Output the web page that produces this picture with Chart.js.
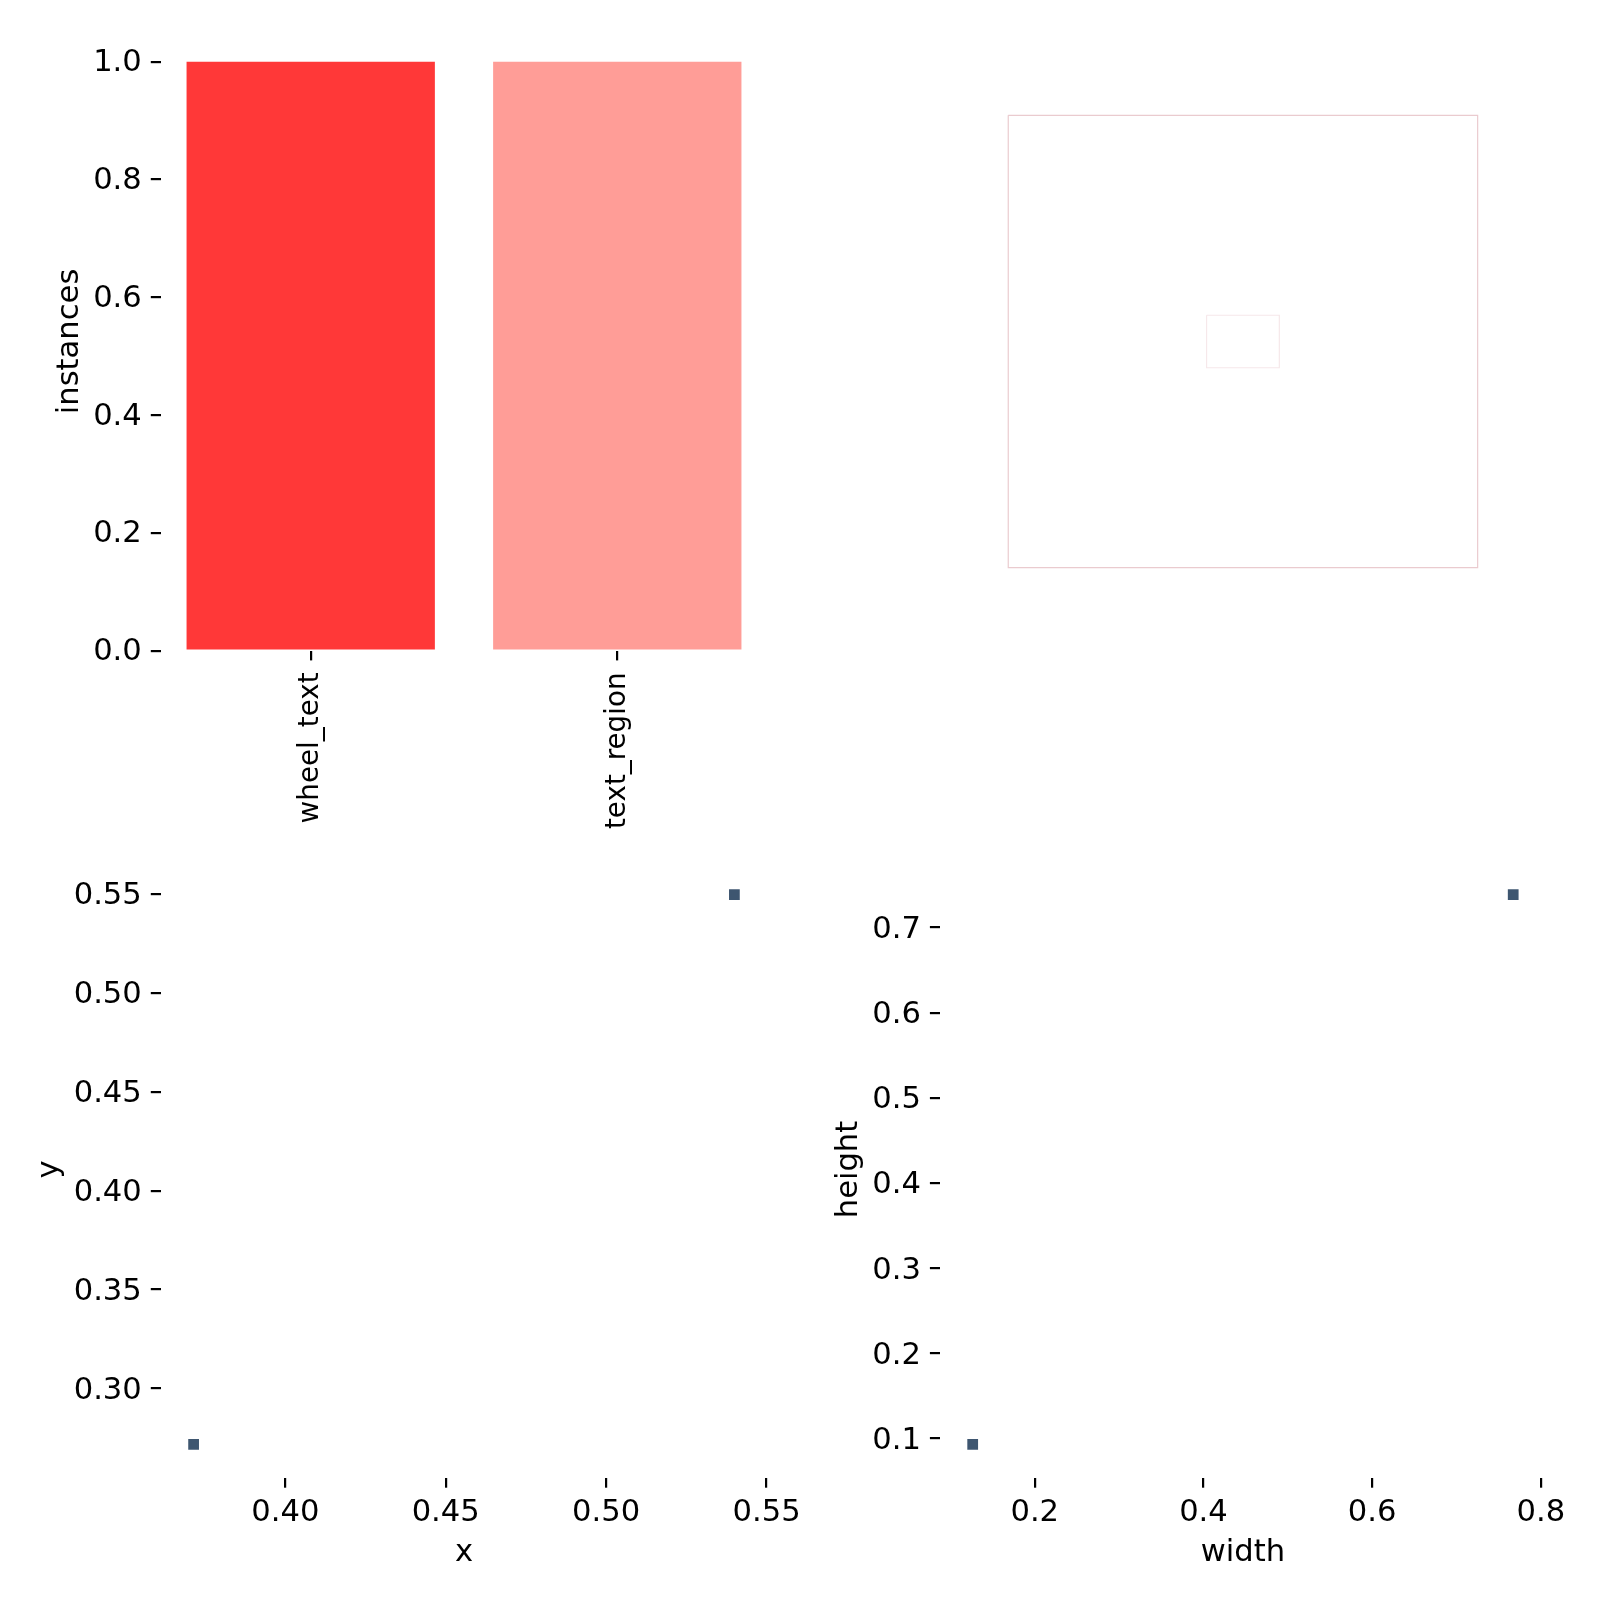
<!DOCTYPE html>
<html><head><meta charset="utf-8">
<script src="https://cdn.jsdelivr.net/npm/chart.js@4.4.0/dist/chart.umd.min.js"></script>
<style>
html,body{margin:0;padding:0;background:#fff;}
body{width:1600px;height:1600px;position:relative;overflow:hidden;}
.p{position:absolute;}
canvas{display:block;}
</style></head><body>
<div class="p" style="left:0;top:0;width:800px;height:830px"><canvas id="c1" width="800" height="830" style="width:800px;height:830px"></canvas></div>
<div class="p" style="left:800px;top:0;width:800px;height:830px"><canvas id="c2" width="800" height="830" style="width:800px;height:830px"></canvas></div>
<div class="p" style="left:0;top:830px;width:880px;height:770px"><canvas id="c3" width="880" height="770" style="width:880px;height:770px"></canvas></div>
<div class="p" style="left:800px;top:830px;width:800px;height:770px"><canvas id="c4" width="800" height="770" style="width:800px;height:770px"></canvas></div>
<script>
// ---- data ----
const classes = ['wheel_text', 'text_region'];
const instances = [1, 1];
const instanceTicks = [0.0, 0.2, 0.4, 0.6, 0.8, 1.0];
const boxX = [0.3697, 0.5417];
const boxY = [0.2689, 0.5525];
const boxW = [0.1199, 0.7737];
const boxH = [0.0865, 0.7452];
const xTicks = [0.40, 0.45, 0.50, 0.55];
const yTicks = [0.30, 0.35, 0.40, 0.45, 0.50, 0.55];
const wTicks = [0.2, 0.4, 0.6, 0.8];
const hTicks = [0.1, 0.2, 0.3, 0.4, 0.5, 0.6, 0.7];

// ---- styles ----
Chart.defaults.font.family = 'DejaVu Sans';
Chart.defaults.color = '#000';
const FONT = {family: 'DejaVu Sans', size: 30.6};
const CLASS_FONT = {family: 'DejaVu Sans', size: 27.8};
const barColors = ['#FF3838', '#FF9D97'];
const boxColors = ['#F6E8EA', '#EACBCF'];
const cellColor = '#3e5670';
const BINS = 50;

const tickGrid = {drawOnChartArea: false, drawTicks: true, tickLength: 9.7, color: '#000', lineWidth: 2.2, offset: false};
const noBorder = {display: false};
const fixedTicks = vals => scale => { scale.ticks = vals.map(v => ({value: v})); };
const plugins = {legend: {display: false}, tooltip: {enabled: false}};

function lim(arr) {
  const mn = Math.min(...arr), mx = Math.max(...arr), m = (mx - mn) * 0.05;
  return [mn - m, mx + m];
}
function hist2d(xs, ys, bins) {
  const x0 = Math.min(...xs), x1 = Math.max(...xs), y0 = Math.min(...ys), y1 = Math.max(...ys);
  const bw = (x1 - x0) / bins, bh = (y1 - y0) / bins;
  const cells = {};
  xs.forEach((x, i) => {
    const ix = Math.min(Math.floor((x - x0) / bw), bins - 1);
    const iy = Math.min(Math.floor((ys[i] - y0) / bh), bins - 1);
    const k = ix + ',' + iy;
    if (!cells[k]) cells[k] = {x: x0 + (ix + 0.5) * bw, y: y0 + (iy + 0.5) * bh, n: 0};
    cells[k].n++;
  });
  return Object.values(cells).map(c => ({x: c.x, y: c.y}));
}

// ---- chart 1: instances bar ----
new Chart(document.getElementById('c1'), {
  type: 'bar',
  data: {datasets: [{
    data: classes.map((c, i) => ({x: i, y: instances[i]})),
    backgroundColor: barColors, borderWidth: 0,
    barPercentage: 0.81, categoryPercentage: 1
  }]},
  options: {
    responsive: false, animation: false, plugins,
    layout: {padding: {left: 0, top: 32.2, right: 32.5, bottom: 0}},
    scales: {
      x: {type: 'linear', min: -0.49, max: 1.49, offset: false,
          afterBuildTicks: fixedTicks(classes.map((c, i) => i)),
          ticks: {font: CLASS_FONT, color: '#000', padding: 12, minRotation: 90, maxRotation: 90, autoSkip: false,
                  callback: v => classes[v]},
          grid: tickGrid, border: noBorder,
          afterFit: s => { s.height = 179.3; }},
      y: {type: 'linear', min: 0, max: 1.05,
          afterBuildTicks: fixedTicks(instanceTicks),
          ticks: {font: FONT, color: '#000', padding: 9, labelOffset: 1.5, callback: v => Number(v).toFixed(1)},
          grid: tickGrid, border: noBorder,
          title: {display: true, text: 'instances', font: FONT, color: '#000', padding: {top: 52, bottom: 0}},
          afterFit: s => { s.width = 160.5; }}
    }
  }
});

// ---- chart 2: boxes ----
new Chart(document.getElementById('c2'), {
  type: 'line',
  data: {datasets: boxW.map((w, i) => {
    const h = boxH[i];
    const xa = 500 - w * 500, xb = 500 + w * 500, ya = 500 - h * 500, yb = 500 + h * 500;
    return {data: [{x: xa, y: ya}, {x: xb, y: ya}, {x: xb, y: yb}, {x: xa, y: yb}, {x: xa, y: ya}],
            borderColor: boxColors[i], borderWidth: 1.2, pointRadius: 0, fill: false, tension: 0};
  })},
  options: {
    responsive: false, animation: false, plugins,
    layout: {padding: {left: 139.6, top: 38, right: 53.7, bottom: 185}},
    scales: {
      x: {type: 'linear', min: 0, max: 1000, display: false},
      y: {type: 'linear', min: 0, max: 1000, display: false, reverse: true}
    }
  }
});

// ---- scatter helper ----
function histChart(id, xs, ys, xt, yt, xDec, yDec, xTitle, yTitle, yWidth, yTitlePad, padRight) {
  const xl = lim(xs), yl = lim(ys);
  new Chart(document.getElementById(id), {
    type: 'scatter',
    data: {datasets: [{
      data: hist2d(xs, ys, BINS),
      pointStyle: 'rect', pointRadius: 7.6, pointBackgroundColor: cellColor, pointBorderWidth: 0
    }]},
    options: {
      responsive: false, animation: false, plugins,
      layout: {padding: {left: 0, top: 31, right: padRight, bottom: 0}},
      scales: {
        x: {type: 'linear', min: xl[0], max: xl[1],
            afterBuildTicks: fixedTicks(xt),
            ticks: {font: FONT, color: '#000', padding: 7, maxRotation: 0, autoSkip: false,
                    callback: v => Number(v).toFixed(xDec)},
            grid: tickGrid, border: noBorder,
            title: {display: true, text: xTitle, font: FONT, color: '#000', padding: {top: 0, bottom: 28.6}},
            afterFit: s => { s.height = 122; }},
        y: {type: 'linear', min: yl[0], max: yl[1],
            afterBuildTicks: fixedTicks(yt),
            ticks: {font: FONT, color: '#000', padding: 9, labelOffset: 2.5, callback: v => Number(v).toFixed(yDec)},
            grid: tickGrid, border: noBorder,
            title: {display: true, text: yTitle, font: FONT, color: '#000', padding: {top: yTitlePad, bottom: 0}},
            afterFit: s => { s.width = yWidth; }}
      }
    }
  });
}

histChart('c3', boxX, boxY, xTicks, yTicks, 2, 2, 'x', 'y', 160.5, 32, 112.5);
histChart('c4', boxW, boxH, wTicks, hTicks, 1, 1, 'width', 'height', 139.6, 30.6, 53.7);
</script>
</body></html>
